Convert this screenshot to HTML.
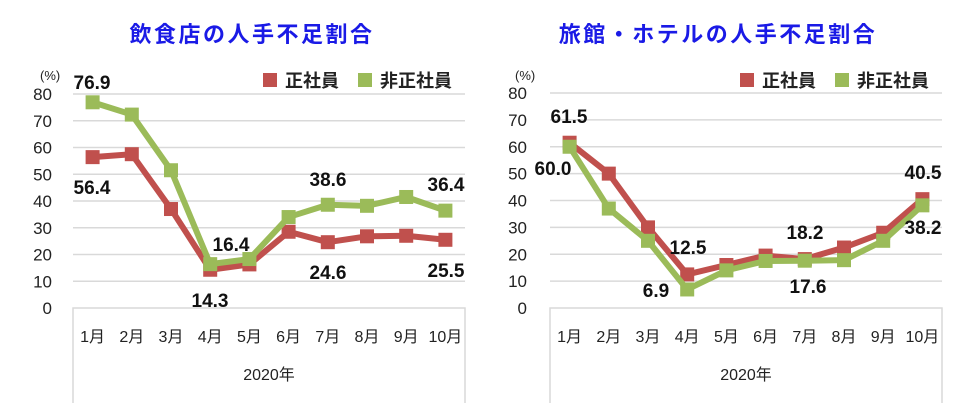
<!DOCTYPE html>
<html><head><meta charset="utf-8"><style>
body{margin:0;background:#fff;}
svg{display:block;font-family:"Liberation Sans","Noto Sans CJK JP",sans-serif;}
</style></head><body>
<svg id="s" width="980" height="403" viewBox="0 0 980 403"></svg>
<script>
const s=document.getElementById('s');let h='';
const R='#c0504d',G='#9bbb59';
function chart(o){
 const {x0,x1,y0,yb,title,tx,ylx,leg,d1,d2,labels}=o;
 h+=`<text x="${tx}" y="42" text-anchor="middle" font-size="22" font-weight="bold" fill="#1a1ae6" letter-spacing="2.5">${title}</text>`;
 const sy=(yb-y0)/80;
 for(let v=0;v<=80;v+=10){const y=yb-v*sy;
  if(v>0)h+=`<line x1="${x0}" x2="${x1}" y1="${y}" y2="${y}" stroke="#d9d9d9" stroke-width="1.5"/>`;
  h+=`<text x="${ylx}" y="${y+6}" text-anchor="end" font-size="17" fill="#222">${v}</text>`;}
 h+=`<text x="${ylx-12}" y="80" font-size="13" fill="#222">(%)</text>`;
 h+=`<path d="M${x0} 403V${yb}H${x1}V403" fill="none" stroke="#d9d9d9" stroke-width="1.5"/>`;
 const st=(x1-x0)/10;
 for(let i=0;i<10;i++){h+=`<text x="${x0+st*(i+0.5)}" y="342" text-anchor="middle" font-size="16" fill="#222">${i+1}月</text>`;}
 h+=`<text x="${(x0+x1)/2}" y="380" text-anchor="middle" font-size="16" fill="#222">2020年</text>`;
 [[d1,R],[d2,G]].forEach(([d,c])=>{
  const pts=d.map((v,i)=>[x0+st*(i+0.5),yb-v*sy]);
  h+=`<polyline points="${pts.map(p=>p.join(',')).join(' ')}" fill="none" stroke="${c}" stroke-width="6" stroke-linejoin="round"/>`;
  pts.forEach(p=>h+=`<rect x="${p[0]-7}" y="${p[1]-7}" width="14" height="14" fill="${c}"/>`);});
 h+=`<rect x="${leg}" y="73" width="14" height="14" fill="${R}"/><text x="${leg+22}" y="87" font-size="18" font-weight="bold" fill="#222">正社員</text>`;
 h+=`<rect x="${leg+95}" y="73" width="14" height="14" fill="${G}"/><text x="${leg+117}" y="87" font-size="18" font-weight="bold" fill="#222">非正社員</text>`;
 labels.forEach(([t,x,y])=>h+=`<text x="${x}" y="${y+7}" text-anchor="middle" font-size="19" font-weight="bold" fill="#111">${t}</text>`);
}
chart({x0:73,x1:465,y0:94,yb:308,title:'飲食店の人手不足割合',tx:252,ylx:52,leg:263,
 d1:[56.4,57.5,37,14.3,16.3,28.5,24.6,26.8,27,25.5],
 d2:[76.9,72.3,51.5,16.4,18.3,34,38.6,38.2,41.5,36.4],
 labels:[['76.9',92,82],['56.4',92,187],['14.3',210,300],['16.4',231,244],['38.6',328,179],['24.6',328,272],['36.4',446,184],['25.5',446,270]]});
chart({x0:550,x1:942,y0:93,yb:308,title:'旅館・ホテルの人手不足割合',tx:718,ylx:527,leg:740,
 d1:[61.5,50,30,12.5,16,19.5,18.2,22.5,28,40.5],
 d2:[60,37,25,6.9,14,17.5,17.6,17.8,25,38.2],
 labels:[['61.5',569,116],['60.0',553,168],['12.5',688,247],['6.9',656,290],['18.2',805,232],['17.6',808,286],['40.5',923,172],['38.2',923,227]]});
s.innerHTML=h;
</script>
</body></html>
